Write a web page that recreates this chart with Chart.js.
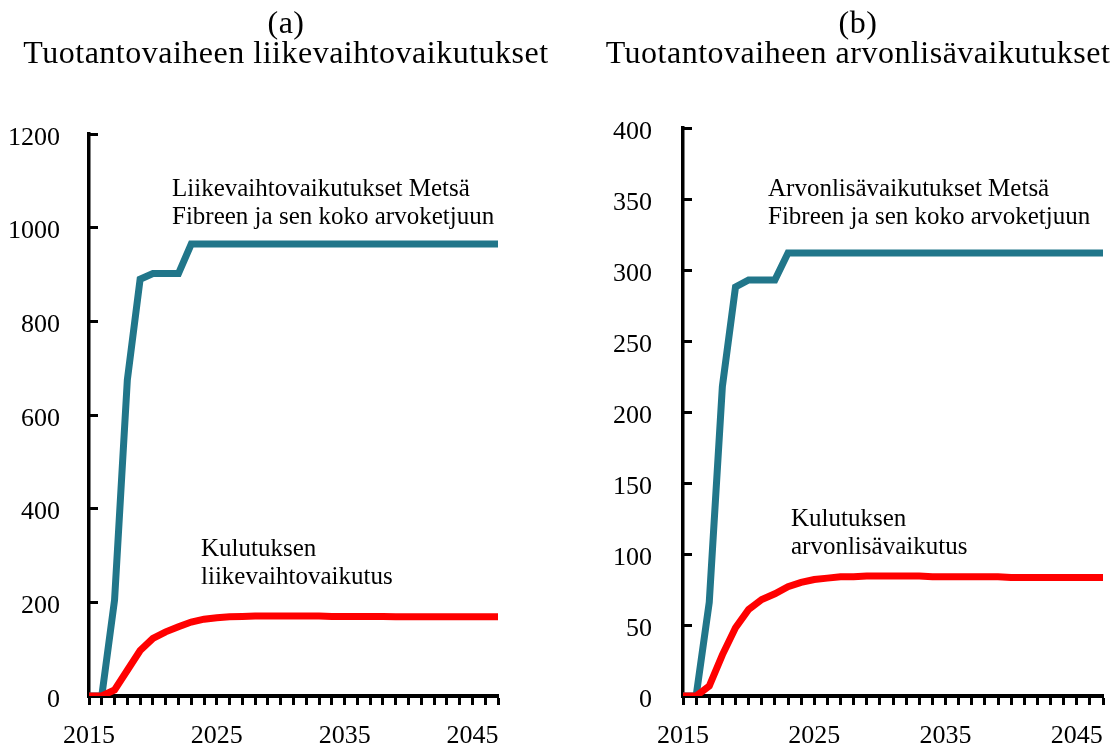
<!DOCTYPE html>
<html>
<head>
<meta charset="utf-8">
<script src="https://cdn.jsdelivr.net/npm/chart.js@4"></script>
<style>
  html, body { margin: 0; padding: 0; background: #fff; }
  #wrap { position: relative; width: 1119px; height: 747px; overflow: hidden; }
  canvas { position: absolute; top: 0; }
  .txt { position: absolute; font-family: "Liberation Serif", serif; color: #000; white-space: nowrap; }
  .title { font-size: 32px; line-height: 30px; text-align: center; letter-spacing: 0.5px; transform: translateX(-50%); }
  .note { font-size: 25px; line-height: 28px; }
</style>
</head>
<body>
<div id="wrap">
  <canvas id="chartA" width="560" height="747" style="left:0;width:560px;height:747px"></canvas>
  <canvas id="chartB" width="559" height="747" style="left:560px;width:559px;height:747px"></canvas>

  <div class="txt title" style="left:286px;top:7px">(a)<br>Tuotantovaiheen liikevaihtovaikutukset</div>
  <div class="txt title" style="left:858px;top:7px">(b)<br>Tuotantovaiheen arvonlisävaikutukset</div>

  <div class="txt note" style="left:172px;top:174px">Liikevaihtovaikutukset Metsä<br>Fibreen ja sen koko arvoketjuun</div>
  <div class="txt note" style="left:201px;top:534px">Kulutuksen<br>liikevaihtovaikutus</div>
  <div class="txt note" style="left:768px;top:174px">Arvonlisävaikutukset Metsä<br>Fibreen ja sen koko arvoketjuun</div>
  <div class="txt note" style="left:791px;top:504px">Kulutuksen<br>arvonlisävaikutus</div>
</div>

<script>
// years on the x axis, labelled every ten years
const years = [2015, 2016, 2017, 2018, 2019, 2020, 2021, 2022, 2023, 2024, 2025,
  2026, 2027, 2028, 2029, 2030, 2031, 2032, 2033, 2034, 2035, 2036,
  2037, 2038, 2039, 2040, 2041, 2042, 2043, 2044, 2045, 2046, 2047]
const xTickLabels = [2015, 2025, 2035, 2045]

// (a) liikevaihtovaikutukset
const turnoverChain = [0, 0, 205, 675, 890, 902, 902, 902, 965, 965, 965,
  965, 965, 965, 965, 965, 965, 965, 965, 965, 965, 965,
  965, 965, 965, 965, 965, 965, 965, 965, 965, 965, 965]
const turnoverConsumption = [0, 0, 13, 55, 97, 123, 137, 148, 158, 164, 167,
  169, 170, 171, 171, 171, 171, 171, 171, 170, 170, 170,
  170, 170, 169, 169, 169, 169, 169, 169, 169, 169, 169]
const turnoverTicks = [0, 200, 400, 600, 800, 1000, 1200]

// (b) arvonlisävaikutukset
const valueAddedChain = [0, 0, 66, 218, 288, 293, 293, 293, 312, 312, 312,
  312, 312, 312, 312, 312, 312, 312, 312, 312, 312, 312,
  312, 312, 312, 312, 312, 312, 312, 312, 312, 312, 312]
const valueAddedConsumption = [0, 0, 7, 29, 48, 61, 68, 72, 77, 80, 82,
  83, 84, 84, 84.5, 84.5, 84.5, 84.5, 84.5, 84, 84, 84,
  84, 84, 84, 83.5, 83.5, 83.5, 83.5, 83.5, 83.5, 83.5, 83.5]
const valueAddedTicks = [0, 50, 100, 150, 200, 250, 300, 350, 400]

const TEAL = "#21768a"
const RED = "#ff0000"
const FONT = "'Liberation Serif', serif"

function points(values) {
  return years.map((x, i) => ({ x: x, y: values[i] }))
}

function makeChart(id, chain, consumption, yTicks, opts) {
  return new Chart(document.getElementById(id), {
    type: "line",
    data: {
      datasets: [
        // red first so it sits on top of the teal line
        { data: points(consumption), borderColor: RED, borderWidth: 7, pointRadius: 0, tension: 0 },
        { data: points(chain), borderColor: TEAL, borderWidth: 7, pointRadius: 0, tension: 0 }
      ]
    },
    options: {
      responsive: false,
      animation: false,
      layout: { padding: { top: opts.top, right: opts.right, bottom: 0, left: 0 } },
      plugins: { legend: { display: false }, tooltip: { enabled: false } },
      scales: {
        x: {
          type: "linear",
          min: years[0],
          max: years[years.length - 1],
          afterFit: (scale) => { scale.height = 51 },
          afterBuildTicks: (scale) => { scale.ticks = years.map(v => ({ value: v })) },
          border: { color: "#000", width: 4 },
          grid: { drawOnChartArea: false, drawTicks: true, tickLength: 9, tickWidth: 3, tickColor: "#000" },
          ticks: {
            autoSkip: false,
            maxRotation: 0,
            padding: 16,
            color: "#000",
            font: { family: FONT, size: 26 },
            callback: (v) => xTickLabels.includes(v) ? String(v) : ""
          }
        },
        y: {
          min: yTicks[0],
          max: yTicks[yTicks.length - 1],
          afterFit: (scale) => { scale.width = opts.axisWidth },
          afterBuildTicks: (scale) => { scale.ticks = yTicks.map(v => ({ value: v })) },
          border: { color: "#000", width: 3.5 },
          grid: { drawOnChartArea: false, drawTicks: true, tickLength: -9, tickWidth: 3, tickColor: "#000" },
          ticks: {
            padding: opts.labelPad,
            color: "#000",
            // small line height + empty first line nudges the label a few px down
            font: { family: FONT, size: 26, lineHeight: 0.3 },
            callback: (v) => ["", String(v)]
          }
        }
      }
    }
  })
}

makeChart("chartA", turnoverChain, turnoverConsumption, turnoverTicks,
  { top: 134, right: 62, axisWidth: 89, labelPad: 38 })
makeChart("chartB", valueAddedChain, valueAddedConsumption, valueAddedTicks,
  { top: 128, right: 13, axisWidth: 123, labelPad: 40 })
</script>
</body>
</html>
